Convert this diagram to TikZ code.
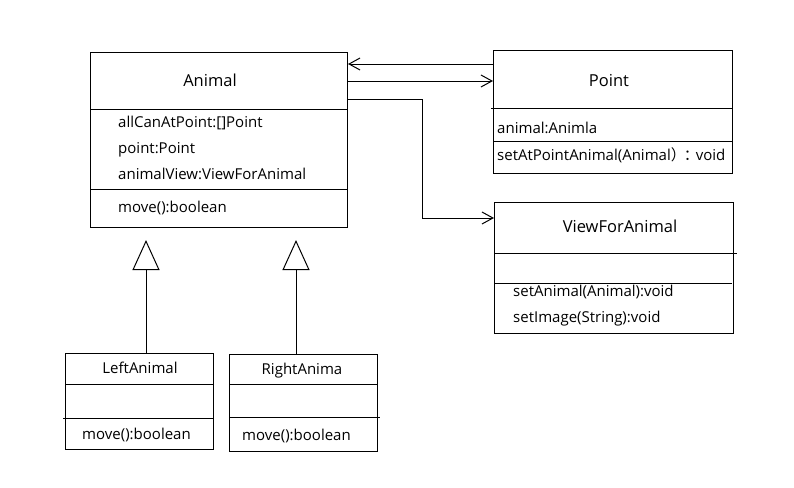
\documentclass[tikz,border=0pt]{standalone}
\usepackage{fontspec}
\setmainfont{Open Sans}
\newfontfamily\cjk{Noto Sans CJK SC}
\usetikzlibrary{arrows.meta,calc}
\begin{document}
\begin{tikzpicture}[x=1pt,y=-1pt,
  box/.style={draw,line width=1pt,anchor=north west,inner sep=0pt},
  divl/.style={line width=1pt},
  ttl/.style={anchor=base,inner sep=0pt,font=\fontsize{16.5}{19}\selectfont},
  ttls/.style={anchor=base,inner sep=0pt,font=\fontsize{15}{18}\selectfont},
  mem/.style={anchor=base west,inner sep=0pt,font=\fontsize{15}{18}\selectfont},
  arr/.style={line width=1pt,-{Straight Barb[length=11pt,width=12pt,line width=1pt]}},
  gen/.style={line width=1pt,-{Triangle[open,length=30pt,width=27pt,line width=1pt,fill=white]}}]
\useasboundingbox[fill=white] (0,0) rectangle (794,487);
% Animal
\node[box,minimum width=257pt,minimum height=175pt] (animal) at (90,52) {};
\draw[divl] (90,109) -- (347,109);
\draw[divl] (90,189) -- (347,189);
\node[ttl] (animalT) at (210,86) {Animal};
\node[mem] (a1) at (118,127) {allCanAtPoint:[]Point};
\node[mem] (a2) at (118,153) {point:Point};
\node[mem] (a3) at (118,179) {animalView:ViewForAnimal};
\node[mem] (a4) at (118,212) {move():boolean};
% Point
\node[box,minimum width=239pt,minimum height=123pt] (pointbox) at (493,50) {};
\draw[divl] (491,108) -- (732,108);
\draw[divl] (493,141) -- (732,141);
\node[ttl] (pointT) at (609,86) {Point};
\node[mem] (p1) at (497,133) {animal:Animla};
\node[mem] (p2) at (497,160) {setAtPointAnimal(Animal{\cjk ）}\kern-2pt{\cjk ：}\kern-3pt void};
% ViewForAnimal
\node[box,minimum width=239pt,minimum height=131pt] (vfa) at (494,202) {};
\draw[divl] (494,253) -- (737,253);
\draw[divl] (494,283) -- (732,283);
\node[ttl] (vfaT) at (620,232) {ViewForAnimal};
\node[mem] (v1) at (513,296) {setAnimal(Animal):void};
\node[mem] (v2) at (513,322) {setImage(String):void};
% LeftAnimal
\node[box,minimum width=148pt,minimum height=96pt] (left) at (65,353) {};
\draw[divl] (65,384) -- (213,384);
\draw[divl] (63,418) -- (213,418);
\node[ttls] (leftT) at (140,373) {LeftAnimal};
\node[mem] (l1) at (82,439) {move():boolean};
% RightAnima
\node[box,minimum width=148pt,minimum height=97pt] (right) at (229,354) {};
\draw[divl] (229,384) -- (377,384);
\draw[divl] (229,417) -- (380,417);
\node[ttls] (rightT) at (302,374) {RightAnima};
\node[mem] (r1) at (242,440) {move():boolean};
% connectors
\draw[arr] ([yshift=-14pt]pointbox.north west) -- ([yshift=-14pt]pointbox.north west -| animal.east);
\draw[arr] ([yshift=-29pt]animal.north east) -- ([yshift=-29pt]animal.north east -| pointbox.west);
\draw[arr] ([yshift=-47pt]animal.north east) -- ++(74,0) |- ([yshift=-16pt]vfa.north west);
\coordinate (tipL) at (146,240);
\coordinate (tipR) at (296,240);
\draw[gen] (tipL |- left.north) -- (tipL);
\draw[gen] (tipR |- right.north) -- (tipR);
\end{tikzpicture}
\end{document}
